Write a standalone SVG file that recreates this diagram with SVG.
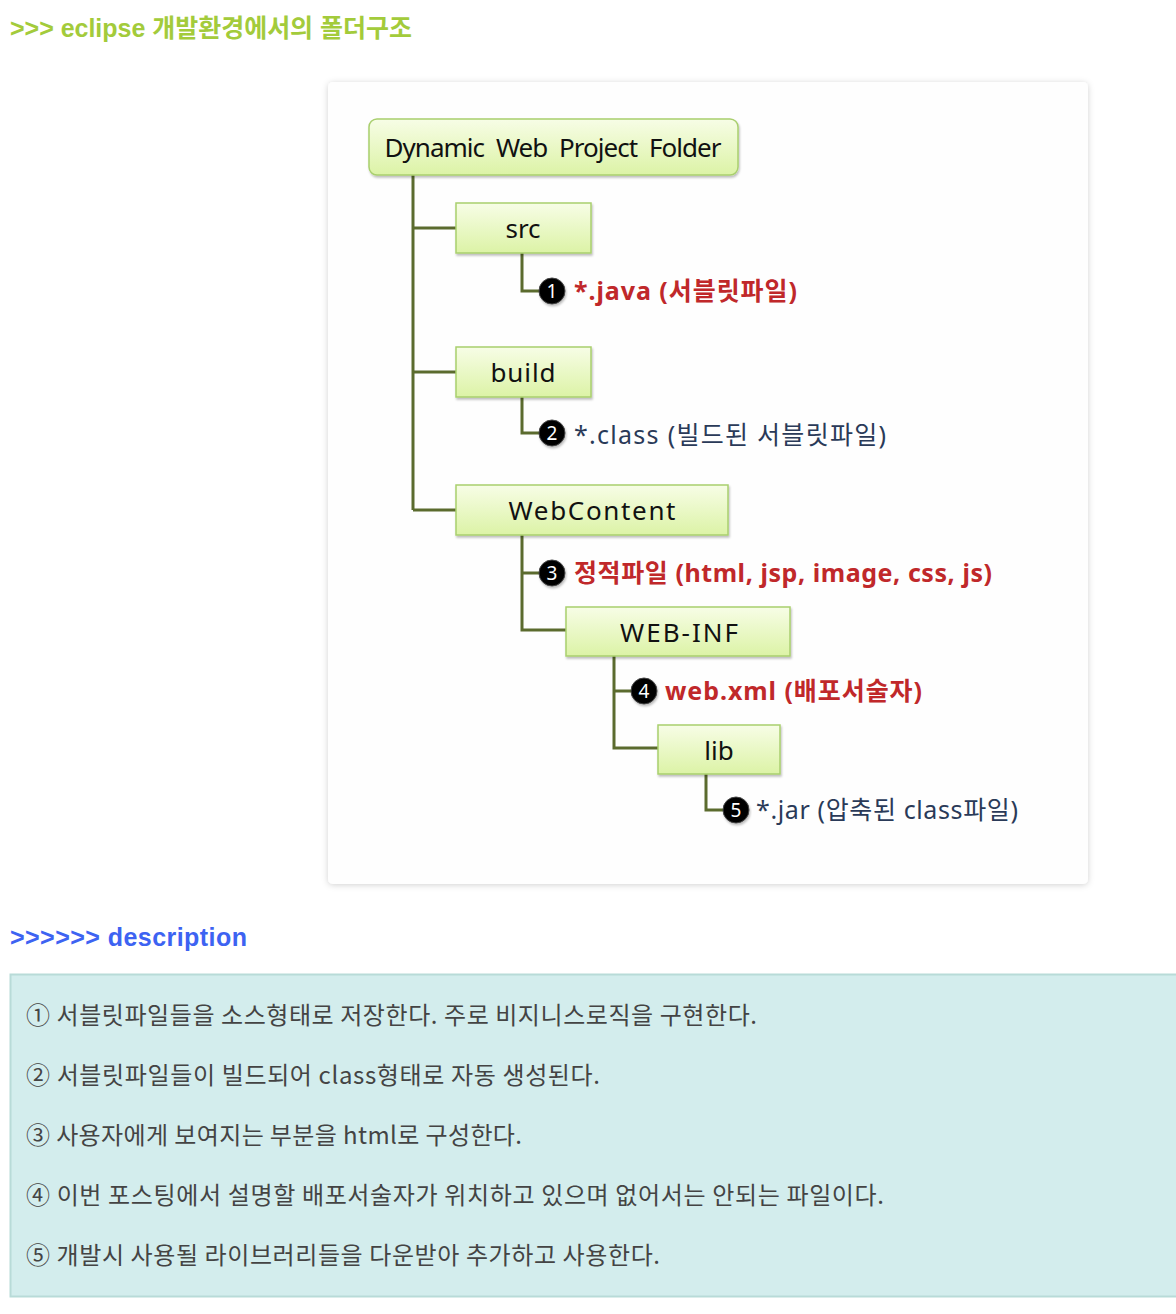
<svg xmlns="http://www.w3.org/2000/svg" width="1176" height="1314" viewBox="0 0 1176 1314">
<defs>
<style>
.title{font-family:"Liberation Sans","Noto Sans CJK KR",sans-serif;font-weight:bold;font-size:25px}
.node text{font-family:"Noto Sans","Noto Sans CJK KR",sans-serif;font-size:26px;fill:#111;text-anchor:middle}
.box{fill:url(#g);stroke:#a9cf6e;stroke-width:1.5}
.conn{fill:none;stroke:#5b6b2e;stroke-width:3}
.num{fill:#000;stroke:#444;stroke-width:1}
.numt{font-family:"Noto Sans",sans-serif;font-size:19px;fill:#fff;text-anchor:middle}
.lbl{font-family:"Noto Sans","Noto Sans CJK KR",sans-serif;font-size:25px}
.red{fill:#c0282a;font-weight:bold}
.blu{fill:#2a3a58}
.desc{font-family:"Noto Sans CJK KR","Noto Sans",sans-serif;font-size:24px;fill:#444}
</style>
<linearGradient id="g" x1="0" y1="0" x2="0" y2="1">
<stop offset="0" stop-color="#f7fde6"/>
<stop offset="1" stop-color="#dcf3a6"/>
</linearGradient>
<filter id="sh" x="-10%" y="-10%" width="120%" height="120%">
<feDropShadow dx="0" dy="1" stdDeviation="3" flood-color="#000" flood-opacity="0.18"/>
</filter>
<filter id="nsh" x="-10%" y="-20%" width="120%" height="150%">
<feDropShadow dx="1" dy="2" stdDeviation="1.2" flood-color="#000" flood-opacity="0.25"/>
</filter>
</defs>
<rect width="1176" height="1314" fill="#fff"/>
<text class="title" x="10" y="37" fill="#a3cb3b" textLength="402">&gt;&gt;&gt; eclipse 개발환경에서의 폴더구조</text>
<rect x="328" y="82" width="760" height="802" rx="5" fill="#fefefe" filter="url(#sh)"/>
<g id="connectors">
<path class="conn" d="M413 175V510M413 228H456M413 372H456M413 510H456"/>
<path class="conn" d="M522 253V291H540"/>
<path class="conn" d="M522 397V433H540"/>
<path class="conn" d="M522 535V630H566M522 573H540"/>
<path class="conn" d="M614 656V748H658M614 691H632"/>
<path class="conn" d="M706 774V810H724"/>
</g>
<g id="root" class="node"><rect class="box" x="369" y="119" width="369" height="56" rx="8" filter="url(#nsh)"/><text x="553" y="157" word-spacing="6" textLength="337">Dynamic Web Project Folder</text></g>
<g id="src" class="node"><rect class="box" x="456" y="203" width="135" height="50" filter="url(#nsh)"/><text x="523" y="238">src</text></g>
<g id="build" class="node"><rect class="box" x="456" y="347" width="135" height="50" filter="url(#nsh)"/><text x="523" y="382" textLength="65">build</text></g>
<g id="webcontent" class="node"><rect class="box" x="456" y="485" width="272" height="50" filter="url(#nsh)"/><text x="592" y="520" textLength="167">WebContent</text></g>
<g id="webinf" class="node"><rect class="box" x="566" y="607" width="224" height="49" filter="url(#nsh)"/><text x="679" y="642" textLength="118">WEB-INF</text></g>
<g id="lib" class="node"><rect class="box" x="658" y="725" width="122" height="49" filter="url(#nsh)"/><text x="719" y="760">lib</text></g>
<g id="item1"><circle class="num" cx="552" cy="291" r="13" filter="url(#nsh)"/><text class="numt" x="552" y="298">1</text><text class="lbl red" x="574" y="300" textLength="223">*.java (서블릿파일)</text></g>
<g id="item2"><circle class="num" cx="552" cy="433" r="13" filter="url(#nsh)"/><text class="numt" x="552" y="440">2</text><text class="lbl blu" x="574" y="444" textLength="312">*.class (빌드된 서블릿파일)</text></g>
<g id="item3"><circle class="num" cx="552" cy="573" r="13" filter="url(#nsh)"/><text class="numt" x="552" y="580">3</text><text class="lbl red" x="574" y="582" textLength="418">정적파일 (html, jsp, image, css, js)</text></g>
<g id="item4"><circle class="num" cx="644" cy="691" r="13" filter="url(#nsh)"/><text class="numt" x="644" y="698">4</text><text class="lbl red" x="665" y="700" textLength="257">web.xml (배포서술자)</text></g>
<g id="item5"><circle class="num" cx="736" cy="810" r="13" filter="url(#nsh)"/><text class="numt" x="736" y="817">5</text><text class="lbl blu" x="756" y="819" textLength="262">*.jar (압축된 class파일)</text></g>
<text class="title" x="10" y="946" fill="#3d63f2" textLength="237">&gt;&gt;&gt;&gt;&gt;&gt; description</text>
<rect x="10.5" y="974.5" width="1180" height="322" fill="#d3eded" stroke="#b8dbd8" stroke-width="2"/>
<text class="desc" x="26" y="1024" textLength="731">① 서블릿파일들을 소스형태로 저장한다. 주로 비지니스로직을 구현한다.</text>
<text class="desc" x="26" y="1084" textLength="574">② 서블릿파일들이 빌드되어 class형태로 자동 생성된다.</text>
<text class="desc" x="26" y="1144" textLength="496">③ 사용자에게 보여지는 부분을 html로 구성한다.</text>
<text class="desc" x="26" y="1204" textLength="858">④ 이번 포스팅에서 설명할 배포서술자가 위치하고 있으며 없어서는 안되는 파일이다.</text>
<text class="desc" x="26" y="1264" textLength="634">⑤ 개발시 사용될 라이브러리들을 다운받아 추가하고 사용한다.</text>
</svg>
